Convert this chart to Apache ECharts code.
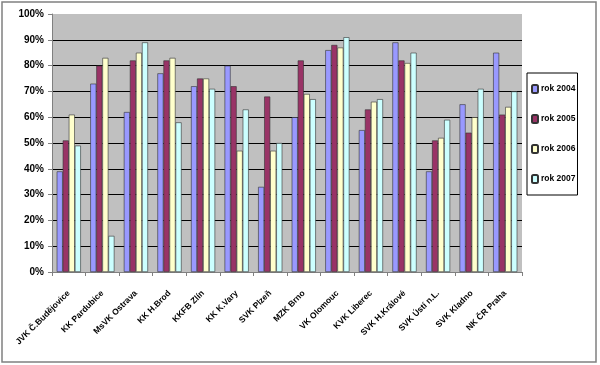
<!DOCTYPE html>
<html><head><meta charset="utf-8">
<script src="https://cdn.jsdelivr.net/npm/echarts@6/dist/echarts.min.js"></script>
<style>html,body{margin:0;padding:0;background:#fff}#c{width:600px;height:365px}</style>
</head><body><div id="c"></div>
<script>
var categories = ['JVK Č.Budějovice','KK Pardubice','MsVK Ostrava','KK H.Brod','KKFB Zlín','KK K.Vary','SVK Plzeň','MZK Brno','VK Olomouc','KVK Liberec','SVK H.Králové','SVK Ústí n.L.','SVK Kladno','NK ČR Praha'];
var seriesNames = ['rok 2004','rok 2005','rok 2006','rok 2007'];
var rok2004 = [39,73,62,77,72,80,33,60,86,55,89,39,65,85];
var rok2005 = [51,80,82,82,75,72,68,82,88,63,82,51,54,61];
var rok2006 = [61,83,85,83,75,47,47,69,87,66,81,52,60,64];
var rok2007 = [49,14,89,58,71,63,50,67,91,67,85,59,71,70];
var yTicks = [0,10,20,30,40,50,60,70,80,90,100];
var colors = ['#9999FF','#993366','#FFFFCC','#CCFFFF'];

var chart = echarts.init(document.getElementById('c'));
var font = 'Liberation Sans, Arial, sans-serif';
var data = [rok2004, rok2005, rok2006, rok2007];
var gridColors = yTicks.map(function(v){ return v === 100 ? '#C0C0C0' : '#000'; });
chart.setOption({
  animation: false,
  color: colors,
  graphic: [{type:'rect', shape:{x:2,y:2,width:594,height:360}, style:{fill:'none', stroke:'#808080', lineWidth:1.5}, z:-1}],
  grid: {left:52, right:78, top:14, bottom:93, show:true, backgroundColor:'#C0C0C0', borderWidth:0},
  legend: {
    orient:'vertical', left:527, top:73,
    data: seriesNames,
    itemWidth:6, itemHeight:8, itemGap:20,
    padding:[11,2,11,4],
    borderColor:'#000', borderWidth:1, backgroundColor:'#fff',
    textStyle:{fontFamily:font, fontSize:8.5, fontWeight:'bold', color:'#000', padding:[0,0,0,-2]}
  },
  xAxis: {
    type:'category', data:categories,
    axisLine:{lineStyle:{color:'#808080', width:1}},
    axisTick:{show:true, length:4, lineStyle:{color:'#808080'}},
    axisLabel:{rotate:45, fontFamily:font, fontSize:8.5, fontWeight:'bold', color:'#000', margin:20, interval:0}
  },
  yAxis: {
    type:'value', min:0, max:100, interval:10,
    axisLine:{show:true, lineStyle:{color:'#808080'}},
    axisTick:{show:true, length:4, lineStyle:{color:'#808080'}},
    axisLabel:{formatter:'{value}%', fontFamily:font, fontSize:10, fontWeight:'bold', color:'#000', margin:8},
    splitLine:{show:true, lineStyle:{color:gridColors, width:1}}
  },
  series: seriesNames.map(function(n,i){
    return {name:n, type:'bar', data:data[i], barGap:'0%', barCategoryGap:'28%',
      itemStyle:{color:colors[i], borderColor:'#333', borderWidth:0.6}};
  })
});
</script></body></html>
